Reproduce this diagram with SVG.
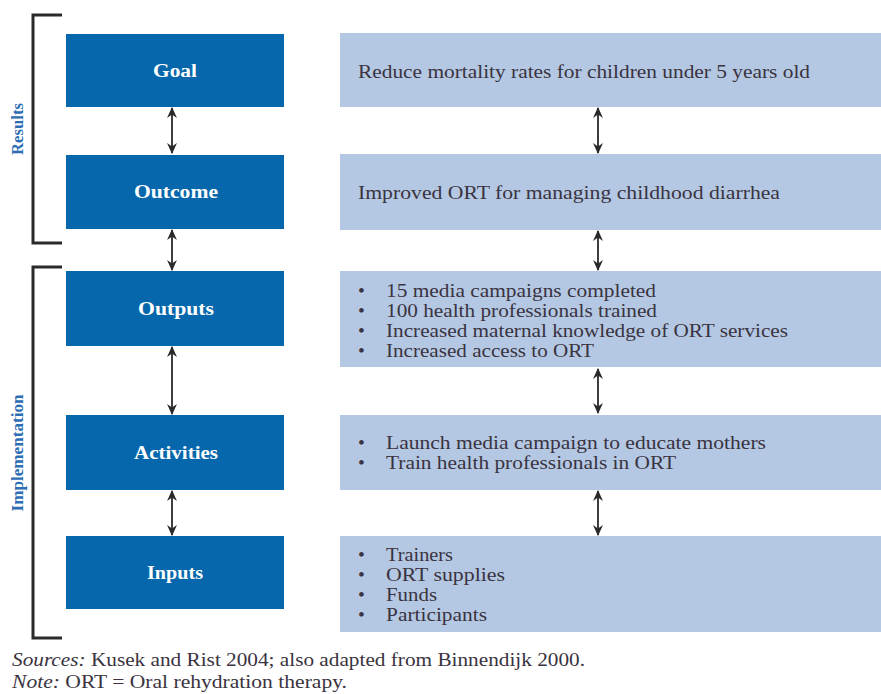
<svg xmlns="http://www.w3.org/2000/svg" width="881" height="694" viewBox="0 0 881 694">
<style>
.dk{fill:#0767ac}
.lt{fill:#b4c8e3}
.lbl{font-family:"Liberation Serif",serif;font-weight:bold;font-size:18px;fill:#fff;text-anchor:middle}
.txt{font-family:"Liberation Serif",serif;font-size:19.5px;fill:#3a3340}
.side{font-family:"Liberation Serif",serif;font-weight:bold;font-size:16px;fill:#2d6db3;text-anchor:middle}
.br{fill:none;stroke:#2a2a2a;stroke-width:3}
.con line{stroke:#2a2a2a;stroke-width:1.8;marker-start:url(#ah);marker-end:url(#ah)}
.foot{font-family:"Liberation Serif",serif;font-size:18px;fill:#3a3340}
</style>
<defs>
<marker id="ah" viewBox="0 0 10 10" refX="9" refY="5" markerWidth="11" markerHeight="11" markerUnits="userSpaceOnUse" orient="auto-start-reverse">
<path d="M0,0.5 L10,5 L0,9.5 L3,5 z" fill="#2a2a2a"/>
</marker>
</defs>
<g id="brackets">
<path class="br" d="M62,15 H33 V243 H62"/>
<path class="br" d="M62,267 H33 V638 H62"/>
<text class="side" transform="translate(23,129) rotate(-90)" textLength="52" lengthAdjust="spacingAndGlyphs">Results</text>
<text class="side" transform="translate(23,453) rotate(-90)" textLength="117" lengthAdjust="spacingAndGlyphs">Implementation</text>
</g>
<g id="goal">
<rect class="dk" x="66" y="34" width="218" height="73"/>
<text class="lbl" x="175" y="77" textLength="44" lengthAdjust="spacingAndGlyphs">Goal</text>
<rect class="lt" x="340" y="33" width="541" height="74"/>
<text class="txt" x="358" y="78" textLength="452" lengthAdjust="spacingAndGlyphs">Reduce mortality rates for children under 5 years old</text>
</g>
<g id="outcome">
<rect class="dk" x="66" y="155" width="218" height="74"/>
<text class="lbl" x="176" y="198" textLength="84" lengthAdjust="spacingAndGlyphs">Outcome</text>
<rect class="lt" x="340" y="154" width="541" height="76"/>
<text class="txt" x="358" y="199" textLength="422" lengthAdjust="spacingAndGlyphs">Improved ORT for managing childhood diarrhea</text>
</g>
<g id="outputs">
<rect class="dk" x="66" y="271" width="218" height="75"/>
<text class="lbl" x="176" y="315" textLength="76" lengthAdjust="spacingAndGlyphs">Outputs</text>
<rect class="lt" x="340" y="271" width="541" height="96"/>
<text class="txt">
<tspan x="358" y="297">•</tspan><tspan x="386" y="297" textLength="270" lengthAdjust="spacingAndGlyphs">15 media campaigns completed</tspan>
<tspan x="358" y="317">•</tspan><tspan x="386" y="317" textLength="271" lengthAdjust="spacingAndGlyphs">100 health professionals trained</tspan>
<tspan x="358" y="337">•</tspan><tspan x="386" y="337" textLength="402" lengthAdjust="spacingAndGlyphs">Increased maternal knowledge of ORT services</tspan>
<tspan x="358" y="357">•</tspan><tspan x="386" y="357" textLength="208" lengthAdjust="spacingAndGlyphs">Increased access to ORT</tspan>
</text>
</g>
<g id="activities">
<rect class="dk" x="66" y="415" width="218" height="75"/>
<text class="lbl" x="176" y="459" textLength="84" lengthAdjust="spacingAndGlyphs">Activities</text>
<rect class="lt" x="340" y="415" width="541" height="75"/>
<text class="txt">
<tspan x="358" y="449">•</tspan><tspan x="386" y="449" textLength="380" lengthAdjust="spacingAndGlyphs">Launch media campaign to educate mothers</tspan>
<tspan x="358" y="469">•</tspan><tspan x="386" y="469" textLength="290" lengthAdjust="spacingAndGlyphs">Train health professionals in ORT</tspan>
</text>
</g>
<g id="inputs">
<rect class="dk" x="66" y="536" width="218" height="73"/>
<text class="lbl" x="175" y="579" textLength="56" lengthAdjust="spacingAndGlyphs">Inputs</text>
<rect class="lt" x="340" y="536" width="541" height="96"/>
<text class="txt">
<tspan x="358" y="561">•</tspan><tspan x="386" y="561" textLength="67" lengthAdjust="spacingAndGlyphs">Trainers</tspan>
<tspan x="358" y="581">•</tspan><tspan x="386" y="581" textLength="119" lengthAdjust="spacingAndGlyphs">ORT supplies</tspan>
<tspan x="358" y="601">•</tspan><tspan x="386" y="601" textLength="51" lengthAdjust="spacingAndGlyphs">Funds</tspan>
<tspan x="358" y="621">•</tspan><tspan x="386" y="621" textLength="101" lengthAdjust="spacingAndGlyphs">Participants</tspan>
</text>
</g>
<g id="connectors" class="con">
<line x1="172" y1="108" x2="172" y2="153"/>
<line x1="172" y1="230" x2="172" y2="270"/>
<line x1="172" y1="347" x2="172" y2="414"/>
<line x1="172" y1="491" x2="172" y2="535"/>
<line x1="598" y1="108" x2="598" y2="153"/>
<line x1="598" y1="231" x2="598" y2="270"/>
<line x1="598" y1="369" x2="598" y2="413"/>
<line x1="598" y1="491" x2="598" y2="535"/>
</g>
<g id="footer">
<text class="foot" x="12" y="666" textLength="573" lengthAdjust="spacingAndGlyphs"><tspan font-style="italic">Sources:</tspan> Kusek and Rist 2004; also adapted from Binnendijk 2000.</text>
<text class="foot" x="12" y="688" textLength="335" lengthAdjust="spacingAndGlyphs"><tspan font-style="italic">Note:</tspan> ORT = Oral rehydration therapy.</text>
</g>
</svg>
